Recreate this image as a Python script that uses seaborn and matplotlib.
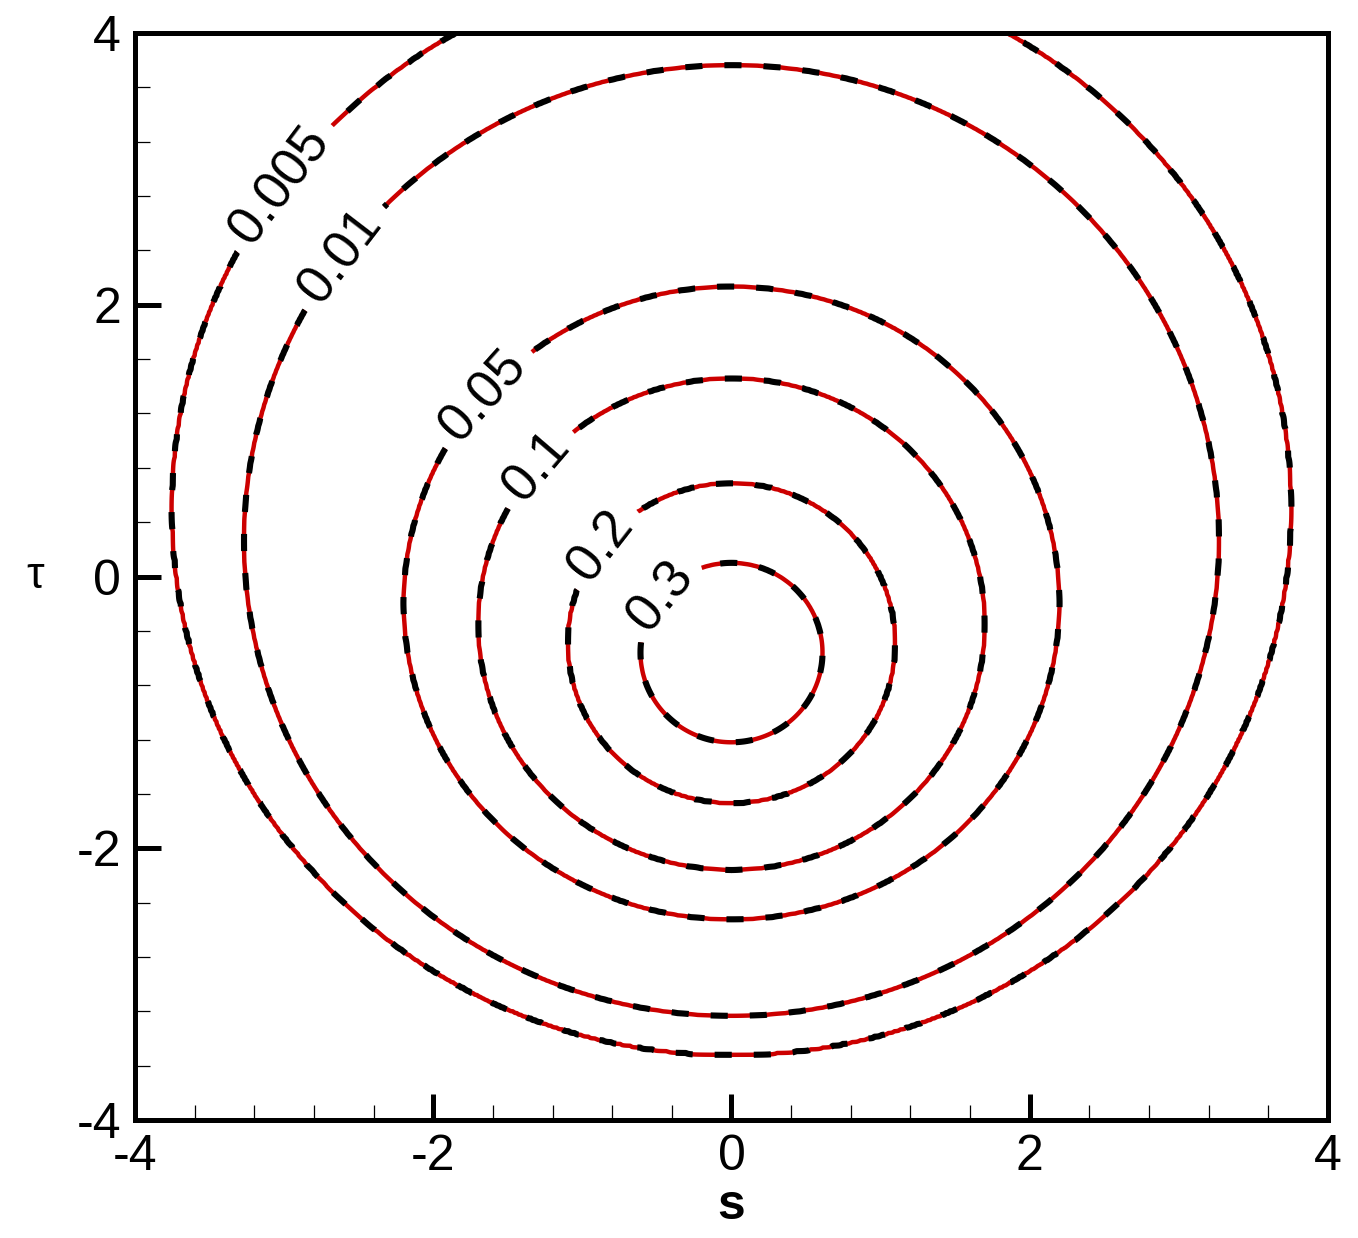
import numpy as np
import seaborn as sns
import matplotlib
matplotlib.use("Agg")
import matplotlib.pyplot as plt
from matplotlib import ticker

# contour levels and the ellipse each one traces
levels = [0.005, 0.01, 0.05, 0.1, 0.2, 0.3]
semi_s = [3.75, 3.27, 2.20, 1.70, 1.10, 0.61]      # half width along s
semi_tau = [4.02, 3.50, 2.33, 1.81, 1.18, 0.66]    # half height along tau
centre_tau = [0.50, 0.265, -0.195, -0.35, -0.49, -0.56]

x_ticks = [-4, -2, 0, 2, 4]
y_ticks = [-4, -2, 0, 2, 4]

sns.set_theme(style="ticks")
plt.rcParams["font.family"] = ["Liberation Sans", "DejaVu Sans"]
plt.rcParams["axes.unicode_minus"] = False
plt.rcParams["text.color"] = "black"
plt.rcParams["axes.labelcolor"] = "black"
plt.rcParams["xtick.color"] = "black"
plt.rcParams["ytick.color"] = "black"


def build_field(S, T):
    d = np.stack([np.hypot(S / a, (T - c) / b)
                  for a, b, c in zip(semi_s, semi_tau, centre_tau)])
    logl = np.log(levels)
    logf = np.where(d[0] > 1, logl[0] - (d[0] - 1), logl[-1] + (1 - d[-1]))
    for k in range(len(levels) - 1):
        inside = (d[k] <= 1) & (d[k + 1] > 1)
        t = (1 - d[k]) / (d[k + 1] - d[k])
        logf = np.where(inside, logl[k] + t * (logl[k + 1] - logl[k]), logf)
    return np.exp(logf)


s = np.linspace(-4, 4, 601)
tau = np.linspace(-4, 4, 601)
S, T = np.meshgrid(s, tau)
field = build_field(S, T)

fig = plt.figure(figsize=(13.58, 12.38), dpi=100)
ax = fig.add_axes([0.0994, 0.0953, 0.8785, 0.878])

label_spots = [(-2.99, 2.84), (-2.63, 2.37), (-1.70, 1.37),
               (-1.32, 0.82), (-0.88, 0.23), (-0.45, -0.17)]

red = ax.contour(S, T, field, levels=levels, colors="#cc0000",
                 linewidths=3.2, linestyles="solid")
ax.clabel(red, inline=True, manual=label_spots, fontsize=38, colors="black",
          fmt=lambda v: f"{v:g}", inline_spacing=14)

black = ax.contour(S, T, field, levels=levels, colors="black",
                   linewidths=4.4, linestyles=[(0, (2.8, 3.6))])
hidden = ax.clabel(black, inline=True, manual=label_spots, fontsize=38,
                   fmt=lambda v: f"{v:g}", inline_spacing=14)
for txt in hidden:
    txt.remove()

ax.set_xlim(-4, 4)
ax.set_ylim(-4, 4)
ax.set_xticks(x_ticks)
ax.set_yticks(y_ticks)
ax.xaxis.set_minor_locator(ticker.MultipleLocator(0.4))
ax.yaxis.set_minor_locator(ticker.MultipleLocator(0.4))
ax.tick_params(which="major", direction="in", length=19, width=3.6,
               labelsize=36, pad=10, top=False, right=False)
ax.tick_params(which="minor", direction="in", length=11, width=0.9,
               top=False, right=False)
for sp in ax.spines.values():
    sp.set_linewidth(3.6)
    sp.set_color("black")

ax.set_xlabel("s", fontsize=36, fontweight="bold", labelpad=2)
ax.set_ylabel("τ", fontsize=32, rotation=0, labelpad=30, va="center")

fig.savefig("out.png", dpi=100)
